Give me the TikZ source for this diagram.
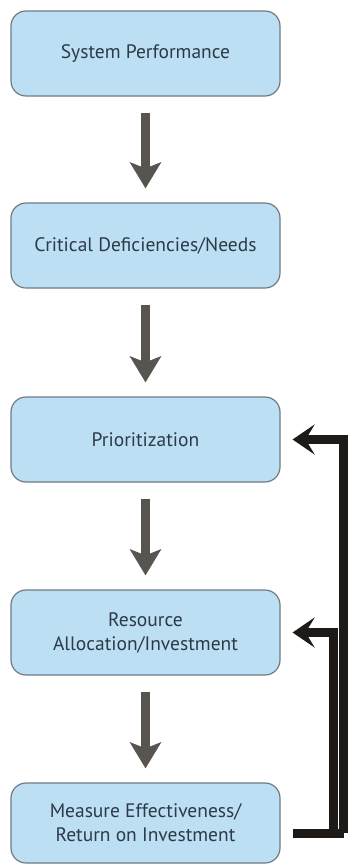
\documentclass[tikz,border=0pt]{standalone}
\usepackage{fontspec}
\setmainfont{PT Sans}
\usetikzlibrary{positioning, arrows.meta, calc}

\definecolor{boxfill}{HTML}{BDDFF4}
\definecolor{boxline}{HTML}{6E7B85}
\definecolor{boxtext}{HTML}{2C3A47}
\definecolor{flowgray}{HTML}{58544F}
\definecolor{fbblack}{HTML}{1E1A18}

\begin{document}
\begin{tikzpicture}[
    x=1pt, y=-1pt,
    stage/.style={draw=boxline, line width=1.2pt, rectangle, rounded corners=15pt,
                  fill=boxfill, align=center, text=boxtext,
                  font=\fontsize{19.5}{24}\selectfont,
                  minimum width=269pt, minimum height=85pt, inner sep=0pt},
    flow/.style={draw=flowgray, line width=9pt,
                 -{Stealth[length=26pt, width=31pt, inset=6pt]},
                 shorten <=16pt, shorten >=14pt},
    fbline/.style={draw=fbblack, line width=9pt, line join=miter},
    fbarrow/.style={fbline, -{Stealth[length=22pt, width=30pt, inset=9pt]},
                    shorten >=12pt}
]
    \useasboundingbox (0,0) rectangle (348,865);

    % --- Stages ---
    \node[stage] (sysperf) at (145.5, 53.5) {System Performance};
    \node[stage] (needs)   at (145.5, 245.5) {Critical Deficiencies/Needs};
    \node[stage] (prio)    at (145.5, 439.5) {Prioritization};
    \node[stage] (alloc)   at (145.5, 632.5) {Resource\\Allocation/Investment};
    \node[stage, minimum height=80pt] (measure) at (145.5, 823)
        {Measure Effectiveness/\\Return on Investment};

    % --- Main flow ---
    \draw[flow] (sysperf) -- (needs);
    \draw[flow] (needs)   -- (prio);
    \draw[flow] (prio)    -- (alloc);
    \draw[flow] (alloc)   -- (measure);

    % --- Feedback loops ---
    \coordinate (fbstart) at (293, 833);
    \coordinate (fbouter) at (343.5, 833);
    \coordinate (fbinner) at (333, 833);
    \draw[fbline] (fbstart) -- (fbouter);
    \draw[fbarrow] (fbouter) |- (prio.east);
    \draw[fbarrow] (fbinner) |- (alloc.east);
\end{tikzpicture}
\end{document}
